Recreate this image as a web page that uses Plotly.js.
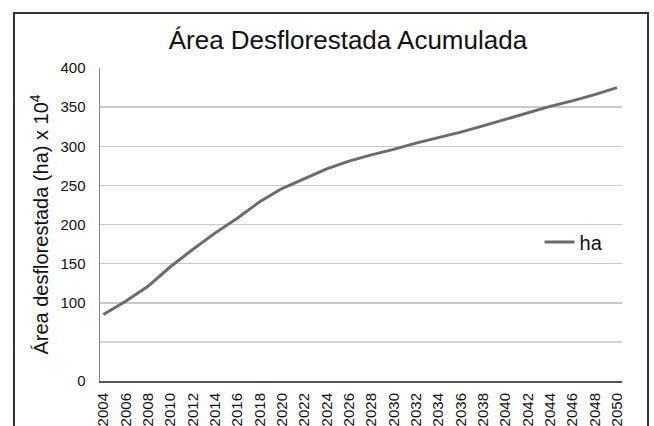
<!DOCTYPE html>
<html>
<head>
<meta charset="utf-8">
<script src="https://cdn.plot.ly/plotly-3.0.1.min.js"></script>
<style>html,body{margin:0;padding:0;background:#fff;}#chart{width:654px;height:426px;}</style>
</head>
<body>
<div id="chart"></div>
<script>
const years = [2004,2006,2008,2010,2012,2014,2016,2018,2020,2022,2024,2026,2028,2030,2032,2034,2036,2038,2040,2042,2044,2046,2048,2050];
const areaHa = [85,102,121,146,168,189,208,229,246,259,271,281,289,296,304,311,318,326,334,343,351,358,366,375];
const seriesName = "ha";
const yTickVals = [0,100,150,200,250,300,350,400];
const yTickText = ["0","100","150","200","250","300","350","400"];
const unlabeledGrid = [50];
const chartTitle = "Área Desflorestada Acumulada";
const yTitle = "Área desflorestada (ha) x 10<sup>4</sup>";

const font = "Liberation Sans, Arial, Helvetica, sans-serif";

const trace = {
  x: years, y: areaHa, name: seriesName, type: "scatter", mode: "lines",
  line: {color: "#6b6b6b", width: 3}
};

const gridShapes = unlabeledGrid.map(v => ({
  type: "line", xref: "paper", yref: "y", x0: 0, x1: 1, y0: v, y1: v,
  line: {color: "#c9c9c9", width: 1.5}, layer: "below"
}));

const layout = {
  width: 654, height: 426,
  margin: {l: 100, r: 32, t: 68, b: 45},
  paper_bgcolor: "#fff", plot_bgcolor: "#fff",
  font: {family: font, color: "#111"},
  title: {text: chartTitle, font: {size: 26, family: font, color: "#111"},
          x: 0.532, xref: "container", xanchor: "center",
          y: 0.906, yref: "container", yanchor: "middle"},
  xaxis: {
    range: [2003.7, 2050.45], tickvals: years, ticktext: years.map(String),
    tickangle: -90, tickfont: {size: 15, family: font, color: "#111"},
    showgrid: false, zeroline: false, showline: true, linecolor: "#555", linewidth: 2,
    ticks: "", ticklabelstandoff: 4, fixedrange: true
  },
  yaxis: {
    range: [0, 400], tickvals: yTickVals, ticktext: yTickText,
    tickfont: {size: 15, family: font, color: "#111"},
    showgrid: true, gridcolor: "#c9c9c9", gridwidth: 1.5,
    zeroline: false, showline: true, linecolor: "#888", linewidth: 1.5,
    ticks: "", ticklabelstandoff: 10,
    title: {text: yTitle, font: {size: 20, family: font, color: "#111"}, standoff: 6},
    fixedrange: true
  },
  showlegend: true,
  legend: {x: 0.842, y: 0.444, xanchor: "left", yanchor: "middle",
           bgcolor: "rgba(0,0,0,0)", font: {size: 20, family: font, color: "#111"},
           itemwidth: 30},
  shapes: gridShapes.concat([{type: "rect", xref: "paper", yref: "paper",
            x0: -0.1648, x1: 1.0498, y0: -0.25, y1: 1.1757,
            line: {color: "#333", width: 2}, fillcolor: "rgba(0,0,0,0)", layer: "below"}])
};

Plotly.newPlot("chart", [trace], layout, {displayModeBar: false, staticPlot: true});
</script>
</body>
</html>
